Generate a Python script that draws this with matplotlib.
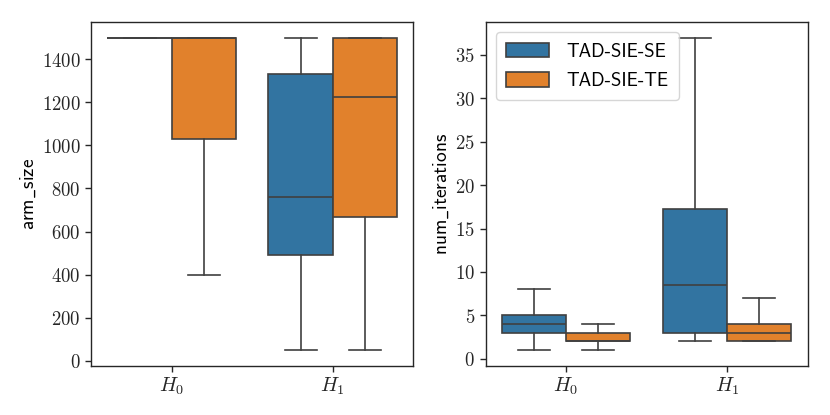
import matplotlib
matplotlib.use("Agg")
import matplotlib.pyplot as plt
from matplotlib.patches import Patch

plt.rcParams['mathtext.fontset'] = 'cm'
plt.rcParams['axes.unicode_minus'] = False

groups = [r"$H_0$", r"$H_1$"]
series = ["TAD-SIE-SE", "TAD-SIE-TE"]
colors = ["#3274a1", "#e1812c"]

# arm_size stats per series: [H0, H1]
arm_whislo = {"TAD-SIE-SE": [1500, 50], "TAD-SIE-TE": [400, 50]}
arm_q1 = {"TAD-SIE-SE": [1500, 493], "TAD-SIE-TE": [1031, 668]}
arm_med = {"TAD-SIE-SE": [1500, 762], "TAD-SIE-TE": [1500, 1224]}
arm_q3 = {"TAD-SIE-SE": [1500, 1330], "TAD-SIE-TE": [1500, 1500]}
arm_whishi = {"TAD-SIE-SE": [1500, 1500], "TAD-SIE-TE": [1500, 1500]}

# num_iterations stats per series: [H0, H1]
it_whislo = {"TAD-SIE-SE": [1, 2], "TAD-SIE-TE": [1, 2]}
it_q1 = {"TAD-SIE-SE": [3, 3], "TAD-SIE-TE": [2, 2]}
it_med = {"TAD-SIE-SE": [4, 8.5], "TAD-SIE-TE": [2, 3]}
it_q3 = {"TAD-SIE-SE": [5, 17.25], "TAD-SIE-TE": [3, 4]}
it_whishi = {"TAD-SIE-SE": [8, 37], "TAD-SIE-TE": [4, 7]}

arm_ticks = [0, 200, 400, 600, 800, 1000, 1200, 1400]
it_ticks = [0, 5, 10, 15, 20, 25, 30, 35]

LC = "#404040"
FS = 13.5

fig = plt.figure(figsize=(8.3, 4.15), dpi=100)
ax1 = fig.add_axes([0.110, 0.119, 0.388, 0.828])
ax2 = fig.add_axes([0.585, 0.119, 0.388, 0.828])


def draw(ax, wlo, q1, med, q3, whi):
    for si, s in enumerate(series):
        stats = []
        pos = []
        for gi in range(len(groups)):
            stats.append(dict(whislo=wlo[s][gi], q1=q1[s][gi], med=med[s][gi],
                              q3=q3[s][gi], whishi=whi[s][gi], fliers=[]))
            pos.append(gi - 0.2 + 0.4 * si)
        ax.bxp(stats, positions=pos, widths=0.4, capwidths=0.2,
               patch_artist=True, showfliers=False, manage_ticks=False,
               boxprops=dict(facecolor=colors[si], edgecolor=LC, linewidth=1.2),
               medianprops=dict(color=LC, linewidth=1.2),
               whiskerprops=dict(color=LC, linewidth=1.2),
               capprops=dict(color=LC, linewidth=1.2))
    ax.set_xlim(-0.5, 1.5)
    ax.set_xticks(range(len(groups)))
    ax.set_xticklabels(groups, fontsize=FS + 1)
    ax.tick_params(axis='both', colors='#262626', length=4, width=1)
    for sp in ax.spines.values():
        sp.set_color('#262626')
        sp.set_linewidth(1.0)


draw(ax1, arm_whislo, arm_q1, arm_med, arm_q3, arm_whishi)
draw(ax2, it_whislo, it_q1, it_med, it_q3, it_whishi)

ax1.set_ylim(-22.5, 1572.5)
ax1.set_yticks(arm_ticks)
ax1.set_yticklabels([f"${t}$" for t in arm_ticks], fontsize=FS)
ax1.set_ylabel(r"arm$\_$size", fontsize=FS + 0.5, family='cmss10', labelpad=3)

ax2.set_ylim(-0.8, 38.8)
ax2.set_yticks(it_ticks)
ax2.set_yticklabels([f"${t}$" for t in it_ticks], fontsize=FS)
ax2.set_ylabel(r"num$\_$iterations", fontsize=FS + 0.5, family='cmss10', labelpad=3)

handles = [Patch(facecolor=colors[i], edgecolor=LC, linewidth=1.2) for i in range(len(series))]
leg = ax2.legend(handles, series, loc='upper left', frameon=True,
                 prop={'family': 'cmss10', 'size': FS}, handlelength=2.3,
                 handleheight=0.8, handletextpad=0.9, borderpad=0.55,
                 labelspacing=0.6, borderaxespad=0.55)
leg.get_frame().set_edgecolor('#cccccc')

fig.savefig("out.png", dpi=100)
